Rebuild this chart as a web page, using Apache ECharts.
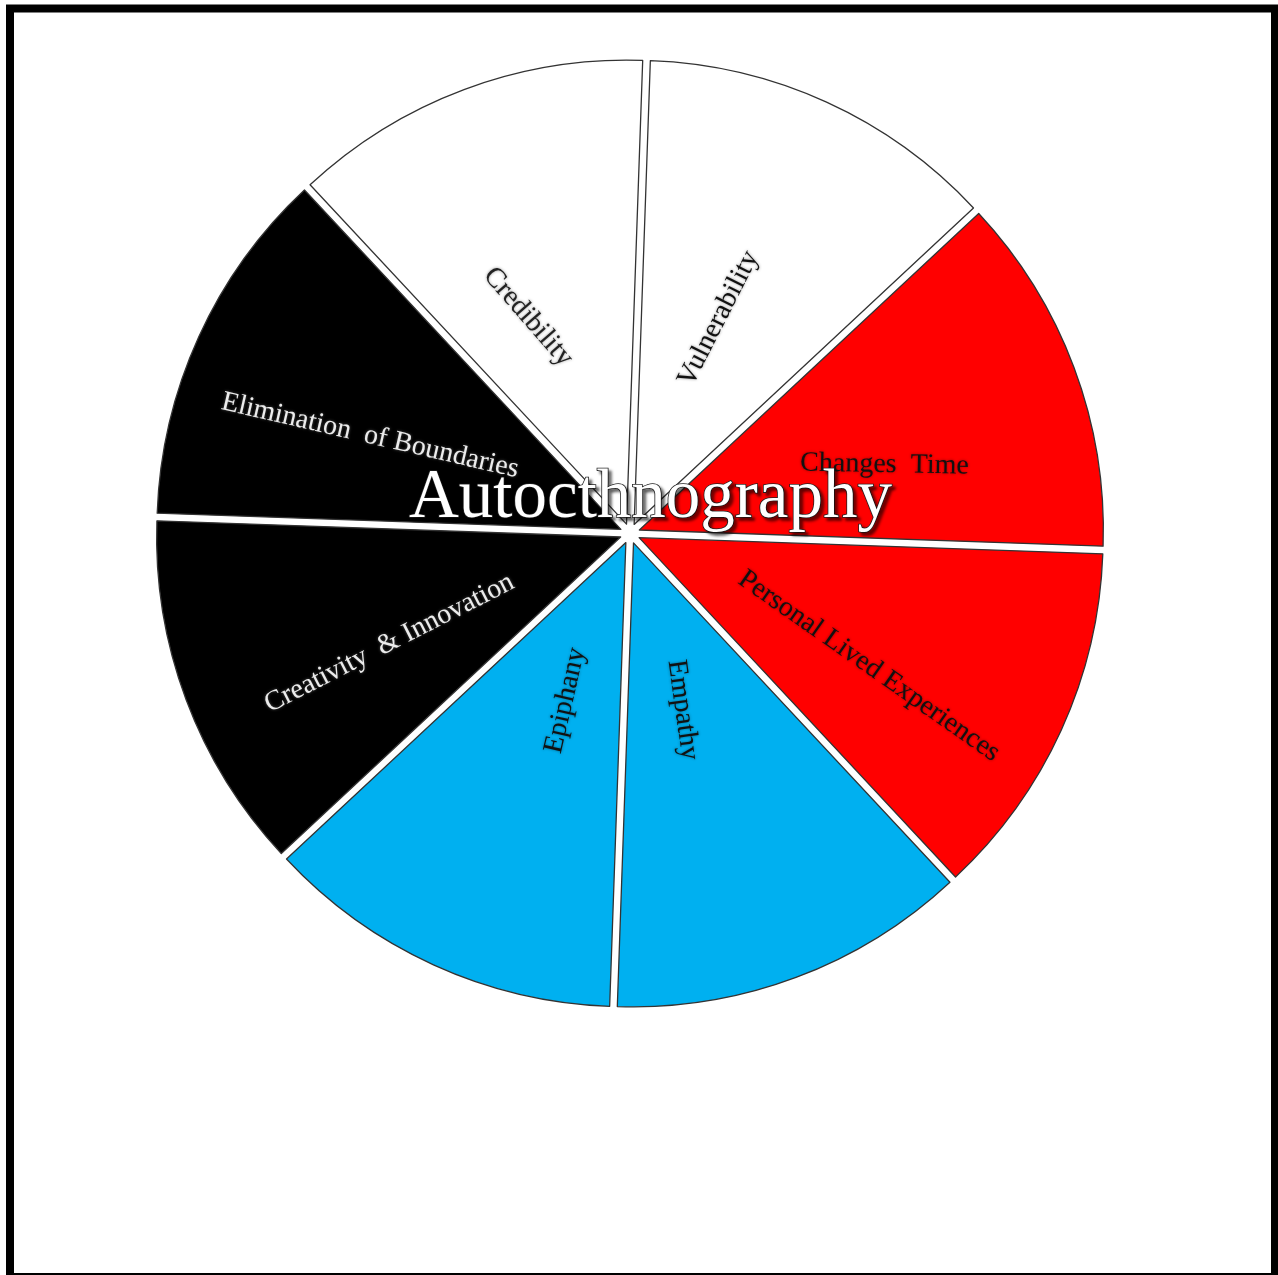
<!DOCTYPE html>
<html>
<head>
<meta charset="utf-8">
<script src="https://cdn.jsdelivr.net/npm/echarts@6/dist/echarts.min.js"></script>
<style>
  html, body { margin: 0; padding: 0; background: #fff; }
  #chart { width: 1278px; height: 1275px; }
</style>
</head>
<body>
<div id="chart"></div>
<script>
// ---- data ----
const title = 'Autocthnography';
const categories = [
  'Vulnerability',
  'Changes  Time',
  'Personal Lived Experiences',
  'Empathy',
  'Epiphany',
  'Creativity  & Innovation',
  'Elimination  of Boundaries',
  'Credibility'
];
const values = [1, 1, 1, 1, 1, 1, 1, 1];

// ---- styles ----
const sliceColors = ['#ffffff', '#ff0000', '#ff0000', '#00b0f0', '#00b0f0', '#000000', '#000000', '#ffffff'];
const labelColors = ['#111', '#111', '#111', '#111', '#111', '#ececec', '#ececec', '#222'];
const labelRotate = [63, -1, -35, -82, 77, 27, -13, -49];
// desired screen-space shift of each label from its default inside position
const labelShift = [[-13, 8], [25, 17], [16, 31], [-33, -53], [37, -56], [-11, 24], [-37, 4], [-16, 13]];

const chart = echarts.init(document.getElementById('chart'), null, { renderer: 'canvas' });

const data = categories.map((name, i) => ({
  name: name,
  value: values[i],
  selected: true,
  itemStyle: { color: sliceColors[i] },
  label: {
    rotate: labelRotate[i],
    color: labelColors[i],
    textShadowColor: i === 5 || i === 6 ? 'rgba(255,255,255,0.35)' : 'rgba(0,0,0,0.45)',
    textShadowBlur: 3
  }
}));

chart.setOption({
  animation: false,
  backgroundColor: '#ffffff',
  title: {
    text: title,
    left: 404,
    top: 459,
    textStyle: {
      fontFamily: 'Liberation Serif',
      fontWeight: 'normal',
      fontSize: 69,
      color: '#ffffff',
      textBorderColor: '#222',
      textBorderWidth: 1.6,
      textShadowColor: 'rgba(0,0,0,0.55)',
      textShadowBlur: 3,
      textShadowOffsetX: 3,
      textShadowOffsetY: 3
    }
  },
  graphic: [{
    type: 'rect',
    z: 100,
    shape: { x: 10, y: 8.5, width: 1265, height: 1268.5 },
    style: { fill: 'none', stroke: '#000', lineWidth: 8 },
    silent: true
  }],
  series: [{
    type: 'pie',
    silent: true,
    center: [630, 533.5],
    radius: [0, 464],
    startAngle: 88,
    clockwise: true,
    selectedMode: 'multiple',
    selectedOffset: 10,
    avoidLabelOverlap: false,
    itemStyle: { borderColor: '#333', borderWidth: 1.3 },
    select: { itemStyle: { borderColor: '#333', borderWidth: 1.3 } },
    emphasis: { disabled: true },
    label: {
      show: true,
      position: 'inside',
      fontFamily: 'Liberation Serif',
      fontSize: 28
    },
    labelLine: { show: false },
    labelLayout: function (params) {
      const i = params.dataIndex;
      const s = labelShift[i];
      const t = labelRotate[i] * Math.PI / 180;
      const c = Math.cos(t), n = Math.sin(t);
      return { dx: s[0] * c - s[1] * n, dy: s[0] * n + s[1] * c };
    },
    data: data
  }]
});
</script>
</body>
</html>
